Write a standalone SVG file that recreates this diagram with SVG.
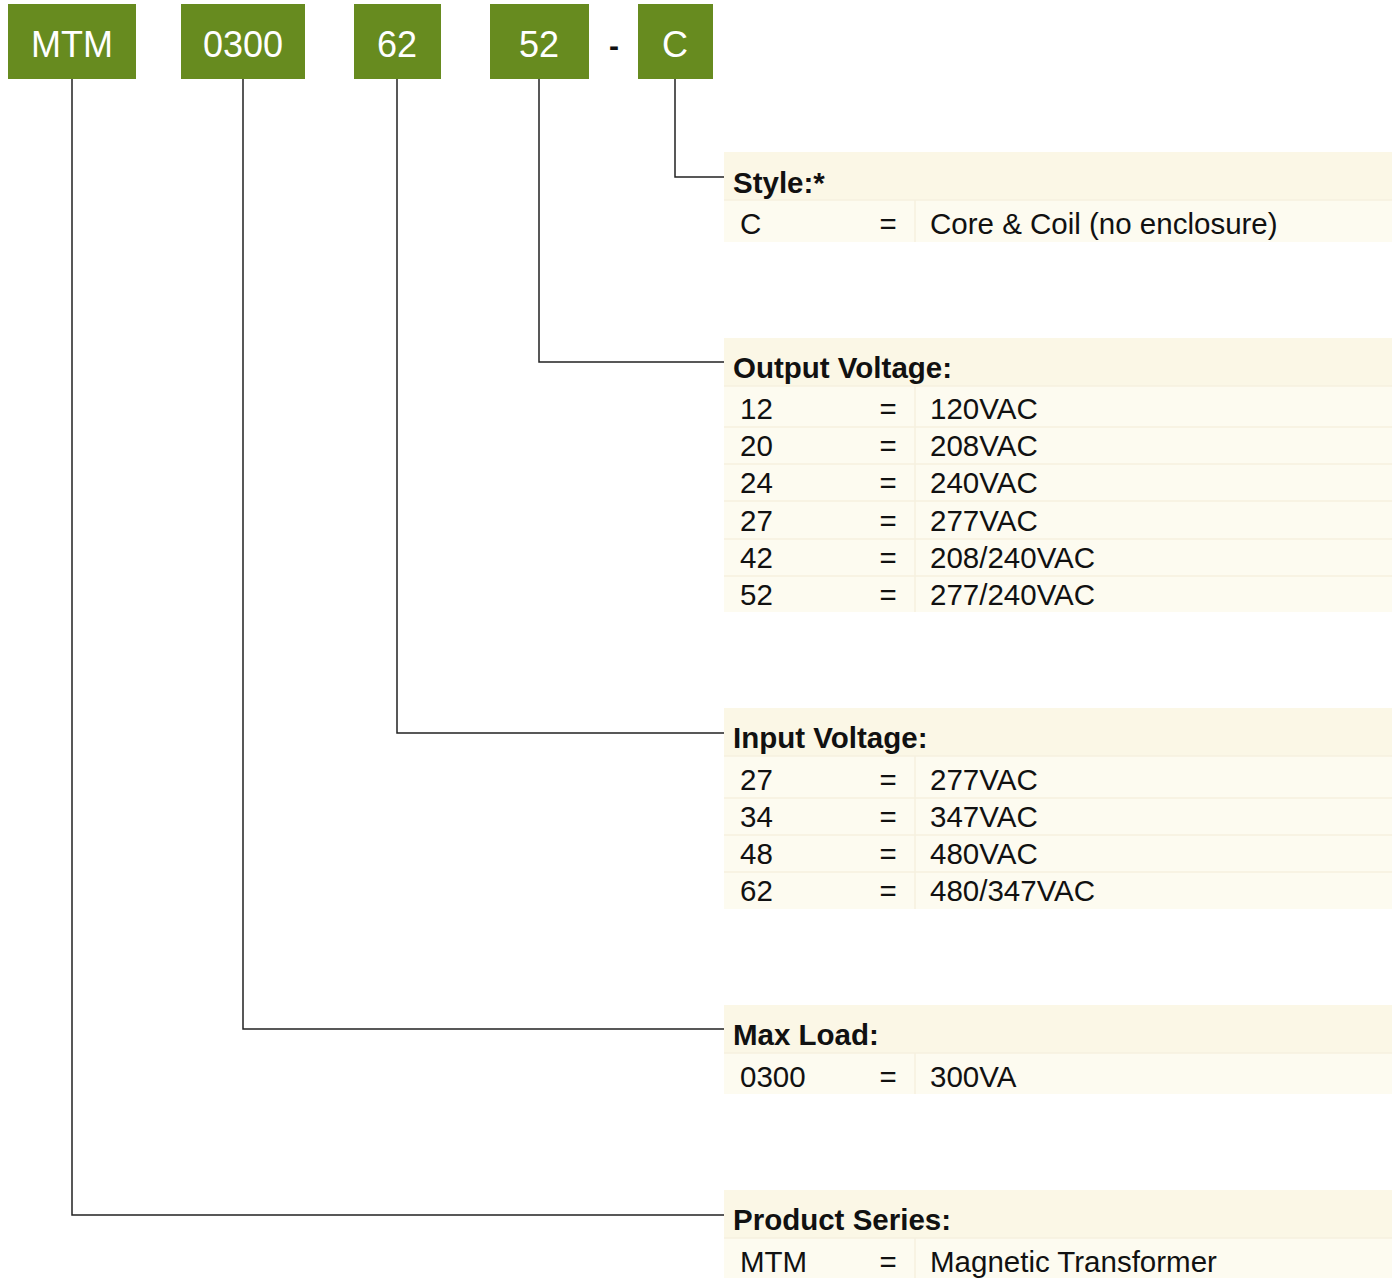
<svg xmlns="http://www.w3.org/2000/svg" width="1394" height="1278" viewBox="0 0 1394 1278">
<style>
.box{fill:#678b1f}
.bt{font-family:"Liberation Sans",Arial,sans-serif;font-size:36px;fill:#fff;text-anchor:middle}
.hd{fill:#fbf7e6}
.rw{fill:#fdfbf0}
.sep{stroke:#f6f0df;stroke-width:1.5}
.h{font-family:"Liberation Sans",Arial,sans-serif;font-size:29.5px;font-weight:bold;fill:#111}
.t{font-family:"Liberation Sans",Arial,sans-serif;font-size:29.5px;fill:#111}
.eq{text-anchor:middle}
.con{fill:none;stroke:#222;stroke-width:1.5}
</style>
<g id="codes">
<g id="code-mtm"><rect class="box" x="8" y="4" width="128" height="75"/><text class="bt" x="72" y="57">MTM</text></g>
<g id="code-0300"><rect class="box" x="181" y="4" width="124" height="75"/><text class="bt" x="243" y="57">0300</text></g>
<g id="code-62"><rect class="box" x="354" y="4" width="87" height="75"/><text class="bt" x="397" y="57">62</text></g>
<g id="code-52"><rect class="box" x="490" y="4" width="99" height="75"/><text class="bt" x="539" y="57">52</text></g>
<text x="614" y="56" font-family="Liberation Sans,Arial,sans-serif" font-size="30" font-weight="bold" text-anchor="middle" fill="#111">-</text>
<g id="code-c"><rect class="box" x="638" y="4" width="75" height="75"/><text class="bt" x="675" y="57">C</text></g>
</g>
<g id="connectors">
<path class="con" d="M675 79V177H724"/>
<path class="con" d="M539 79V362H724"/>
<path class="con" d="M397 79V733H724"/>
<path class="con" d="M243 79V1029H724"/>
<path class="con" d="M72 79V1215H724"/>
</g>
<g id="style">
<rect class="hd" x="724" y="152" width="668" height="48"/>
<rect class="rw" x="724" y="200" width="668" height="42"/>
<line class="sep" x1="724" y1="200" x2="1392" y2="200"/>
<line class="sep" x1="915" y1="200" x2="915" y2="242"/>
<text class="h" x="733" y="193">Style:*</text>
<text class="t" x="740" y="234">C</text><text class="t eq" x="888" y="234">=</text><text class="t" x="930" y="234">Core &amp; Coil (no enclosure)</text>
</g>
<g id="output-voltage">
<rect class="hd" x="724" y="338" width="668" height="48"/>
<rect class="rw" x="724" y="386" width="668" height="226"/>
<line class="sep" x1="724" y1="386" x2="1392" y2="386"/>
<line class="sep" x1="724" y1="427" x2="1392" y2="427"/>
<line class="sep" x1="724" y1="464" x2="1392" y2="464"/>
<line class="sep" x1="724" y1="501" x2="1392" y2="501"/>
<line class="sep" x1="724" y1="539" x2="1392" y2="539"/>
<line class="sep" x1="724" y1="576" x2="1392" y2="576"/>
<line class="sep" x1="915" y1="386" x2="915" y2="612"/>
<text class="h" x="733" y="378">Output Voltage:</text>
<text class="t" x="740" y="419">12</text><text class="t eq" x="888" y="419">=</text><text class="t" x="930" y="419">120VAC</text>
<text class="t" x="740" y="456">20</text><text class="t eq" x="888" y="456">=</text><text class="t" x="930" y="456">208VAC</text>
<text class="t" x="740" y="493">24</text><text class="t eq" x="888" y="493">=</text><text class="t" x="930" y="493">240VAC</text>
<text class="t" x="740" y="531">27</text><text class="t eq" x="888" y="531">=</text><text class="t" x="930" y="531">277VAC</text>
<text class="t" x="740" y="568">42</text><text class="t eq" x="888" y="568">=</text><text class="t" x="930" y="568">208/240VAC</text>
<text class="t" x="740" y="605">52</text><text class="t eq" x="888" y="605">=</text><text class="t" x="930" y="605">277/240VAC</text>
</g>
<g id="input-voltage">
<rect class="hd" x="724" y="708" width="668" height="48"/>
<rect class="rw" x="724" y="756" width="668" height="153"/>
<line class="sep" x1="724" y1="756" x2="1392" y2="756"/>
<line class="sep" x1="724" y1="798" x2="1392" y2="798"/>
<line class="sep" x1="724" y1="835" x2="1392" y2="835"/>
<line class="sep" x1="724" y1="872" x2="1392" y2="872"/>
<line class="sep" x1="915" y1="756" x2="915" y2="909"/>
<text class="h" x="733" y="748">Input Voltage:</text>
<text class="t" x="740" y="790">27</text><text class="t eq" x="888" y="790">=</text><text class="t" x="930" y="790">277VAC</text>
<text class="t" x="740" y="827">34</text><text class="t eq" x="888" y="827">=</text><text class="t" x="930" y="827">347VAC</text>
<text class="t" x="740" y="864">48</text><text class="t eq" x="888" y="864">=</text><text class="t" x="930" y="864">480VAC</text>
<text class="t" x="740" y="901">62</text><text class="t eq" x="888" y="901">=</text><text class="t" x="930" y="901">480/347VAC</text>
</g>
<g id="max-load">
<rect class="hd" x="724" y="1005" width="668" height="48"/>
<rect class="rw" x="724" y="1053" width="668" height="41"/>
<line class="sep" x1="724" y1="1053" x2="1392" y2="1053"/>
<line class="sep" x1="915" y1="1053" x2="915" y2="1094"/>
<text class="h" x="733" y="1045">Max Load:</text>
<text class="t" x="740" y="1087">0300</text><text class="t eq" x="888" y="1087">=</text><text class="t" x="930" y="1087">300VA</text>
</g>
<g id="product-series">
<rect class="hd" x="724" y="1190" width="668" height="48"/>
<rect class="rw" x="724" y="1238" width="668" height="40"/>
<line class="sep" x1="724" y1="1238" x2="1392" y2="1238"/>
<line class="sep" x1="915" y1="1238" x2="915" y2="1278"/>
<text class="h" x="733" y="1230">Product Series:</text>
<text class="t" x="740" y="1272">MTM</text><text class="t eq" x="888" y="1272">=</text><text class="t" x="930" y="1272">Magnetic Transformer</text>
</g>
</svg>
